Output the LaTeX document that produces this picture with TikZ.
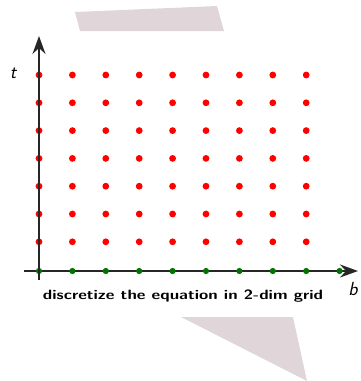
\documentclass[tikz,border=0pt]{standalone}
\usetikzlibrary{arrows.meta}
\begin{document}
\begin{tikzpicture}[x=1pt,y=-1pt,
  reddot/.style={fill=red,draw=none},
  greendot/.style={fill=green!45!black,draw=none},
  axis/.style={line width=1.8pt,draw=black!85,-{Stealth[length=18pt,width=13pt,inset=6pt]}},
  axlabel/.style={font=\fontsize{19}{21}\selectfont\sffamily\itshape,inner sep=0pt}]
\useasboundingbox (0,0) rectangle (360,381);
\fill[fill={rgb,255:red,224;green,214;blue,218}] (75,12) -- (217,6) -- (224,31) -- (80,31) -- cycle;
\fill[fill={rgb,255:red,224;green,214;blue,218}] (181,317) -- (293,317) -- (307,381) -- cycle;
\coordinate (ob) at (39,280);
\coordinate (ot) at (39,36);
\coordinate (ol) at (24,271);
\coordinate (or) at (358,271);
\draw[axis] (ol) -- (or);
\foreach \i in {0,...,8} {
  \foreach \j in {0,...,6} {
    \fill[reddot] ({39+33.4*\i},{75+27.8*\j}) circle (3.4);
  }
}
\foreach \i in {0,...,9} {
  \fill[greendot] ({39+33.4*\i},271) circle (3.1);
}
\draw[axis] (ob) -- (ot);
\node[axlabel,anchor=base] (tl) at (13,78) {t};
\node[axlabel,anchor=base] (bl) at (353,295) {b};
\node[font=\fontsize{13.5}{15}\selectfont\sffamily\bfseries,anchor=base,inner sep=0pt] (cap) at (183,299) {\resizebox{280pt}{\height}{discretize the equation in 2-dim grid}};
\end{tikzpicture}
\end{document}
